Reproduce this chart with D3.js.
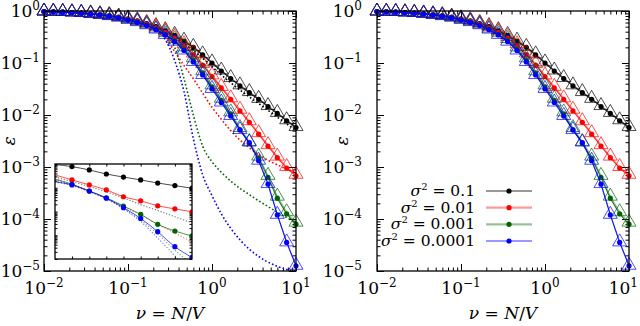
<!DOCTYPE html>
<html lang="en">
<head>
<meta charset="UTF-8">
<title>Error vs density</title>
<script src="https://d3js.org/d3.v7.min.js"></script>
<style>
  body { margin: 0; background: #fff; }
  svg { display: block; font-family: "DejaVu Serif", serif; }
  .frame { fill: none; stroke: #000; stroke-width: 1.3; }
  .tick line { stroke: #000; stroke-width: 1; }
</style>
</head>
<body>
<script>
// density grid (nu = N/V) shared by both panels
const nu = [0.01, 0.0129, 0.0167, 0.0215, 0.0278, 0.0359, 0.0464, 0.0599, 0.0774,
            0.1, 0.129, 0.167, 0.215, 0.278, 0.359, 0.464, 0.599, 0.774,
            1, 1.29, 1.67, 2.15, 2.78, 3.59, 4.64, 5.99, 7.74, 10];

const sigmaLabels = ["0.1", "0.01", "0.001", "0.0001"];
const colors = ["#000000", "#ff0000", "#006400", "#0000ff"];

// filled circles
const dotsS1 = [0.977, 0.966, 0.951, 0.933, 0.912, 0.885, 0.851, 0.813, 0.764, 0.708, 0.646, 0.575, 0.501, 0.417,
                0.339, 0.263, 0.200, 0.143, 0.100, 0.0700, 0.0501, 0.0363, 0.0269, 0.0200, 0.0145, 0.0107, 0.00776, 0.00575];
const dotsS2 = [0.977, 0.966, 0.951, 0.933, 0.908, 0.879, 0.843, 0.802, 0.752, 0.692, 0.631, 0.556, 0.473, 0.389,
                0.302, 0.219, 0.145, 0.0912, 0.0550, 0.0331, 0.0200, 0.0120, 0.00724, 0.00427, 0.00251, 0.00151, 0.000955, 0.000676];
const dotsS3 = [0.977, 0.966, 0.951, 0.931, 0.906, 0.875, 0.838, 0.794, 0.741, 0.676, 0.610, 0.537, 0.447, 0.355,
                0.269, 0.186, 0.115, 0.0646, 0.0347, 0.0191, 0.0105, 0.00525, 0.00282, 0.00148, 0.000631, 0.000251, 0.000126, 0.0000794];
const dotsS4 = [0.977, 0.966, 0.951, 0.931, 0.906, 0.873, 0.834, 0.789, 0.735, 0.668, 0.603, 0.525, 0.437, 0.347,
                0.257, 0.174, 0.105, 0.0589, 0.0316, 0.0174, 0.00955, 0.00513, 0.00295, 0.00132, 0.000468, 0.000120, 0.0000355, 0.0000126];

// open triangles
const triS1 = [1.0, 0.99, 0.98, 0.965, 0.945, 0.92, 0.89, 0.855, 0.80, 0.74, 0.68, 0.60, 0.525, 0.437,
               0.355, 0.275, 0.209, 0.150, 0.105, 0.0733, 0.0525, 0.038, 0.0282, 0.0209, 0.0152, 0.0112, 0.0081, 0.0060];
const triS2 = [1.0, 0.99, 0.98, 0.965, 0.94, 0.91, 0.875, 0.835, 0.785, 0.73, 0.66, 0.59, 0.505, 0.417,
               0.324, 0.235, 0.156, 0.098, 0.059, 0.0355, 0.0214, 0.0129, 0.00776, 0.00457, 0.00269, 0.00162, 0.00102, 0.000724];
const triS3 = [1.0, 0.99, 0.98, 0.96, 0.94, 0.91, 0.87, 0.83, 0.78, 0.71, 0.645, 0.565, 0.47, 0.39,
               0.295, 0.204, 0.126, 0.0708, 0.038, 0.021, 0.0115, 0.00575, 0.0031, 0.00162, 0.00069, 0.000275, 0.000138, 0.000087];
const triS4 = [1.0, 0.99, 0.98, 0.96, 0.935, 0.90, 0.86, 0.815, 0.76, 0.69, 0.625, 0.545, 0.45, 0.355,
               0.263, 0.178, 0.107, 0.060, 0.0324, 0.0178, 0.0098, 0.00525, 0.00302, 0.00135, 0.00048, 0.000123, 0.0000363, 0.0000129];

// dotted curves, left panel only
const nuDotted = [0.215, 0.278, 0.359, 0.464, 0.599, 0.774, 1, 1.29, 1.67, 2.15, 2.78, 3.59, 4.64, 5.99, 7.74, 10];
const dottedS1 = [0.490, 0.398, 0.316, 0.240, 0.174, 0.123, 0.0851, 0.0589, 0.0417, 0.0302, 0.0224, 0.0166, 0.0123, 0.00912, 0.00676, 0.00501];
const dottedS2 = [0.437, 0.316, 0.166, 0.0891, 0.0501, 0.0263, 0.0141, 0.00832, 0.00501, 0.00331, 0.00234, 0.00174, 0.00135, 0.0011, 0.000912, 0.000776];
const dottedS3 = [0.437, 0.331, 0.2, 0.0501, 0.01, 0.00251, 0.00126, 0.000794, 0.000537, 0.000389, 0.000295, 0.000224, 0.000174, 0.000135, 0.000107, 0.0000851];
const dottedS4 = [0.427, 0.282, 0.112, 0.0282, 0.00355, 0.000708, 0.000282, 0.000126, 0.0000661, 0.0000398, 0.0000263, 0.0000191, 0.0000148, 0.0000123, 0.0000107, 0.00001];

// inset (left panel)
const insetNu = [1, 1.33, 1.78, 2.37, 3.16, 4.22, 5.62, 7.5, 10];
const insetS1 = [0.0955, 0.0776, 0.0562, 0.038, 0.0282, 0.0214, 0.0158, 0.0123, 0.00955];
const insetS2 = [0.0347, 0.0214, 0.0132, 0.00813, 0.00417, 0.00282, 0.00174, 0.00129, 0.000977];
const insetS3 = [0.0234, 0.0141, 0.00724, 0.0038, 0.0017, 0.000759, 0.000288, 0.000151, 0.0000933];
const insetS4 = [0.0178, 0.0132, 0.00724, 0.00363, 0.00145, 0.000513, 0.000141, 0.0000331, 0.0000117];
const insetDottedS1 = [0.0282, 0.0182, 0.0112, 0.00676, 0.00372, 0.00195, 0.0011, 0.000603, 0.000331];
const insetDottedS2 = [0.0224, 0.0132, 0.00692, 0.00355, 0.00162, 0.000708, 0.000295, 0.000123, 0.0000525];
const insetDottedS3 = [0.0214, 0.0132, 0.00724, 0.00355, 0.00135, 0.000437, 0.000112, 0.000024, 0.0000056];
const insetDottedS4 = [0.0178, 0.0123, 0.00692, 0.00339, 0.00129, 0.00038, 0.0000759, 0.0000135, 0.0000021];

const series = [
  { dots: dotsS1, tri: triS1, dotted: dottedS1, inset: insetS1, insetDotted: insetDottedS1 },
  { dots: dotsS2, tri: triS2, dotted: dottedS2, inset: insetS2, insetDotted: insetDottedS2 },
  { dots: dotsS3, tri: triS3, dotted: dottedS3, inset: insetS3, insetDotted: insetDottedS3 },
  { dots: dotsS4, tri: triS4, dotted: dottedS4, inset: insetS4, insetDotted: insetDottedS4 }
].map((s, i) => ({ ...s, idx: i, color: colors[i], label: sigmaLabels[i] }));

const W = 640, H = 326;
const plotTop = 11, plotBottom = 271;

const svg = d3.select("body").append("svg")
  .attr("width", W)
  .attr("height", H);

const defs = svg.append("defs");

// open triangle marker, centroid on the data point
const triPath = "M0,-8L7,4L-7,4Z";

function isDecade(v) {
  const l = Math.log10(v);
  return Math.abs(l - Math.round(l)) < 1e-6;
}

function powLabel(sel, v) {
  const e = Math.round(Math.log10(v));
  sel.append("tspan").text("10");
  sel.append("tspan").attr("dy", -7).attr("font-size", 12)
    .text(e < 0 ? "\u2212" + (-e) : String(e));
}

function drawTicks(g, x, y, left, right, top, bottom, majLen, minLen) {
  const xt = x.ticks(), yt = y.ticks();
  const xMaj = xt.filter(isDecade), xMin = xt.filter(v => !isDecade(v));
  const yMaj = yt.filter(isDecade), yMin = yt.filter(v => !isDecade(v));
  const specs = [
    [d3.axisBottom(x), `translate(0,${bottom})`, xMaj, xMin],
    [d3.axisTop(x), `translate(0,${top})`, xMaj, xMin],
    [d3.axisLeft(y), `translate(${left},0)`, yMaj, yMin],
    [d3.axisRight(y), `translate(${right},0)`, yMaj, yMin]
  ];
  specs.forEach(([axis, tr, maj, min]) => {
    [[maj, majLen], [min, minLen]].forEach(([vals, len]) => {
      const a = g.append("g").attr("transform", tr)
        .call(axis.tickValues(vals).tickSize(-len).tickFormat(""));
      a.select(".domain").remove();
    });
  });
}

function drawPanel(p) {
  const g = svg.append("g");
  const x = d3.scaleLog().domain([0.01, 10]).range([p.left, p.right]);
  const y = d3.scaleLog().domain([1e-5, 1]).range([plotBottom, plotTop]);

  drawTicks(g, x, y, p.left, p.right, plotTop, plotBottom, 7, 3.5);

  // tick labels
  x.ticks().filter(isDecade).forEach(v => {
    const t = g.append("text").attr("x", x(v)).attr("y", 294)
      .attr("text-anchor", "middle").attr("font-size", 17);
    powLabel(t, v);
    // keep the last label inside the picture
    const w = t.node().getComputedTextLength();
    if (x(v) + w / 2 > W - 2) t.attr("x", W - 2 - w / 2);
  });
  y.ticks().filter(isDecade).forEach(v => {
    const t = g.append("text").attr("x", p.left - p.labelGap).attr("y", y(v) + 5.5)
      .attr("text-anchor", "end").attr("font-size", 17);
    powLabel(t, v);
  });

  // axis titles
  const xt = g.append("text").attr("x", (p.left + p.right) / 2).attr("y", 319)
    .attr("text-anchor", "middle").attr("font-size", 17);
  xt.append("tspan").attr("font-style", "italic").text("\u03bd");
  xt.append("tspan").text(" = ");
  xt.append("tspan").attr("font-style", "italic").text("N");
  xt.append("tspan").text("/");
  xt.append("tspan").attr("font-style", "italic").text("V");

  g.append("text")
    .attr("transform", `translate(${p.left - 29},${(plotTop + plotBottom) / 2}) rotate(-90)`)
    .attr("text-anchor", "middle").attr("font-size", 17).attr("font-style", "italic")
    .text("\u03b5");

  const clipId = "clip" + p.id;
  defs.append("clipPath").attr("id", clipId).append("rect")
    .attr("x", p.left).attr("y", plotTop)
    .attr("width", p.right - p.left).attr("height", plotBottom - plotTop);

  const line = d3.line().x(d => x(d[0])).y(d => y(d[1]));
  const smooth = d3.line().x(d => x(d[0])).y(d => y(d[1])).curve(d3.curveMonotoneX);

  if (p.extras) {
    const dg = g.append("g").attr("clip-path", `url(#${clipId})`);
    series.forEach(s => {
      dg.append("path")
        .datum(nuDotted.map((v, i) => [v, s.dotted[i]]))
        .attr("d", smooth)
        .attr("fill", "none")
        .attr("stroke", s.color)
        .attr("stroke-width", 1.6)
        .attr("stroke-dasharray", "1.6,2.2");
    });
  }

  series.forEach(s => {
    const sg = g.append("g");
    const triData = nu.map((v, i) => [v, s.tri[i]]);
    const dotData = nu.map((v, i) => [v, s.dots[i]]);
    sg.append("path").datum(triData).attr("d", line)
      .attr("fill", "none").attr("stroke", s.color)
      .attr("stroke-opacity", 0.45).attr("stroke-width", 1);
    sg.selectAll("path.tri").data(triData).enter().append("path")
      .attr("class", "tri")
      .attr("d", triPath)
      .attr("transform", d => `translate(${x(d[0])},${y(d[1])})`)
      .attr("fill", "none").attr("stroke", s.color)
      .attr("stroke-opacity", 0.7).attr("stroke-width", 1);
    sg.append("path").datum(dotData).attr("d", line)
      .attr("fill", "none").attr("stroke", s.color)
      .attr("stroke-opacity", 0.85).attr("stroke-width", 1.2);
    sg.selectAll("circle").data(dotData).enter().append("circle")
      .attr("cx", d => x(d[0])).attr("cy", d => y(d[1])).attr("r", 2.6)
      .attr("fill", s.color);
  });

  g.append("rect").attr("class", "frame")
    .attr("x", p.left).attr("y", plotTop)
    .attr("width", p.right - p.left).attr("height", plotBottom - plotTop);

  if (p.extras) drawInset(g);
  if (p.legend) drawLegend(g);
}

function drawInset(parent) {
  const L = 55, R = 192, T = 164, B = 259;
  const g = parent.append("g");
  g.append("rect").attr("x", L).attr("y", T).attr("width", R - L).attr("height", B - T)
    .attr("fill", "#fff");
  const xi = d3.scaleLog().domain([1, 10]).range([L, R]);
  const yi = d3.scaleLog().domain([1e-5, 1e-1]).range([B, T]);

  defs.append("clipPath").attr("id", "clipInset").append("rect")
    .attr("x", L).attr("y", T).attr("width", R - L).attr("height", B - T);

  // inset ticks
  const specs = [
    [d3.axisBottom(xi).tickValues(insetNu.slice(1, 8)), `translate(0,${B})`],
    [d3.axisTop(xi).tickValues(insetNu.slice(1, 8)), `translate(0,${T})`],
    [d3.axisLeft(yi).tickValues(yi.ticks()), `translate(${L},0)`],
    [d3.axisRight(yi).tickValues(yi.ticks()), `translate(${R},0)`]
  ];
  specs.forEach(([axis, tr]) => {
    const a = g.append("g").attr("transform", tr)
      .call(axis.tickSize(-2.5).tickFormat(""));
    a.select(".domain").remove();
  });

  const cg = g.append("g").attr("clip-path", "url(#clipInset)");
  const line = d3.line().x(d => xi(d[0])).y(d => yi(d[1])).curve(d3.curveMonotoneX);
  series.forEach(s => {
    cg.append("path").datum(insetNu.map((v, i) => [v, s.insetDotted[i]]))
      .attr("d", line).attr("fill", "none").attr("stroke", s.color)
      .attr("stroke-opacity", 0.55).attr("stroke-width", 1.1)
      .attr("stroke-dasharray", "1.2,1.8");
  });
  series.forEach(s => {
    const data = insetNu.map((v, i) => [v, s.inset[i]]);
    cg.append("path").datum(data).attr("d", line)
      .attr("fill", "none").attr("stroke", s.color)
      .attr("stroke-opacity", 0.7).attr("stroke-width", 1);
    cg.selectAll("circle.s" + s.idx).data(data.slice(1)).enter().append("circle")
      .attr("class", "s" + s.idx)
      .attr("cx", d => xi(d[0])).attr("cy", d => yi(d[1])).attr("r", 2.6)
      .attr("fill", s.color);
  });
  g.append("rect").attr("class", "frame")
    .attr("x", L).attr("y", T).attr("width", R - L).attr("height", B - T);
}

function drawLegend(parent) {
  const rowY = d3.scalePoint().domain(sigmaLabels).range([191, 241]);
  series.forEach(s => {
    const cy = rowY(s.label);
    const t = parent.append("text").attr("x", 475).attr("y", cy + 5)
      .attr("text-anchor", "end").attr("font-size", 15.5);
    t.append("tspan").attr("font-style", "italic").text("\u03c3");
    t.append("tspan").attr("dy", -6).attr("font-size", 10).text("2");
    t.append("tspan").attr("dy", 6).text(" = " + s.label);
    parent.append("line").attr("x1", 486).attr("x2", 532).attr("y1", cy).attr("y2", cy)
      .attr("stroke", s.color).attr("stroke-opacity", 0.4).attr("stroke-width", 2.2);
    parent.append("circle").attr("cx", 509).attr("cy", cy).attr("r", 2.6).attr("fill", s.color);
  });
}

drawPanel({ id: 0, left: 44, right: 296, labelGap: 4, extras: true, legend: false });
drawPanel({ id: 1, left: 377, right: 629, labelGap: 15, extras: false, legend: true });
</script>
</body>
</html>
